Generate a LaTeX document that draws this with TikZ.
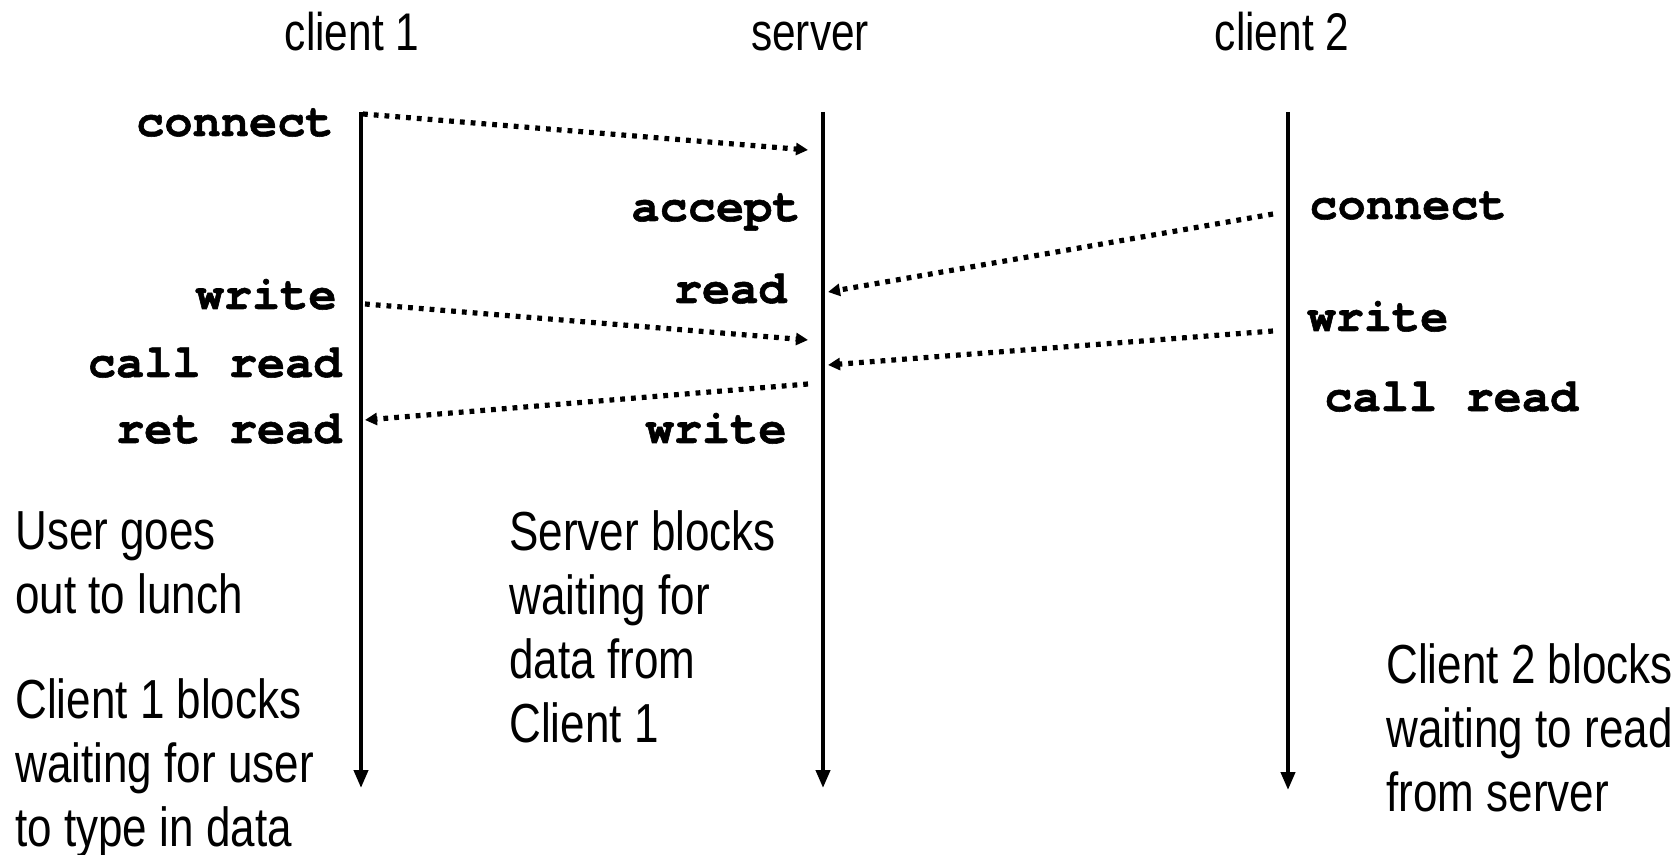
\documentclass[tikz,border=0pt]{standalone}
\usepackage{fontspec}
\setmainfont{Liberation Sans}
\newfontfamily\narrowfont[FakeStretch=0.8]{Liberation Sans}
\setmonofont{texgyrecursor}[Extension=.otf, UprightFont=*-regular, BoldFont=*-bold,
    BoldFeatures={FakeBold=1.2}]
\usetikzlibrary{arrows.meta}

\begin{document}
\begin{tikzpicture}[x=0.5pt, y=-0.5pt,
    lifeline/.style={line width=2pt, -{Triangle[length=9pt, width=7pt]}},
    msg/.style={line width=2.6pt, dash pattern=on 2.4pt off 3pt,
        -{Triangle[length=6pt, width=6pt]}},
    head/.style={font=\narrowfont\fontsize{26.5}{32}\selectfont, inner sep=0, anchor=base},
    call/.style={font=\ttfamily\bfseries\fontsize{23.5}{28}\selectfont, inner sep=0},
    note/.style={font=\narrowfont\fontsize{27.5}{32}\selectfont, inner sep=0,
        align=left, anchor=north west}]

    \useasboundingbox (0, 0) rectangle (1675, 855);

    % Headers
    \node[head] (c1head) at (352, 51) {client 1};
    \node[head] (srvhead) at (810, 51) {server};
    \node[head] (c2head) at (1282, 51) {client 2};

    % Lifelines
    \coordinate (c1top) at (361, 112);
    \coordinate (c1bot) at (361, 788);
    \coordinate (srvtop) at (823, 112);
    \coordinate (srvbot) at (823, 788);
    \coordinate (c2top) at (1288, 112);
    \coordinate (c2bot) at (1288, 790);
    \foreach \x in {c1, srv, c2}
        \draw[lifeline] (\x top) -- (\x bot);

    % Client 1 calls
    \node[call, anchor=base east] (c1connect) at (334, 136) {connect};
    \node[call, anchor=base east] (c1write) at (337, 309) {write};
    \node[call, anchor=base east] (c1callread) at (342, 377) {call read};
    \node[call, anchor=base east] (c1retread) at (342, 443) {ret read};

    % Server calls
    \node[call, anchor=base east] (srvaccept) at (801, 221) {accept};
    \node[call, anchor=base east] (srvread) at (787, 303) {read};
    \node[call, anchor=base east] (srvwrite) at (787, 443) {write};

    % Client 2 calls
    \node[call, anchor=base west] (c2connect) at (1309, 219) {connect};
    \node[call, anchor=base west] (c2write) at (1307, 331) {write};
    \node[call, anchor=base west] (c2callread) at (1324, 411) {call read};

    % Message ends
    \coordinate (m1a) at (363, 114);
    \coordinate (m1b) at (808, 150);
    \coordinate (m2a) at (1273, 214);
    \coordinate (m2b) at (828, 292);
    \coordinate (m3a) at (365, 304);
    \coordinate (m3b) at (808, 340);
    \coordinate (m4a) at (1273, 331);
    \coordinate (m4b) at (828, 365);
    \coordinate (m5a) at (808, 384);
    \coordinate (m5b) at (365, 420);
    \foreach \m in {m1, m2, m3, m4, m5}
        \draw[msg] (\m a) -- (\m b);

    % Notes
    \node[note] (lunch) at (15, 511) {User goes\\out to lunch};
    \node[note] (c1blocks) at (15, 678) {Client 1 blocks\\waiting for user\\to type in data};
    \node[note] (srvblocks) at (509, 510) {Server blocks\\waiting for\\data from\\Client 1};
    \node[note] (c2blocks) at (1386, 643) {Client 2 blocks\\waiting to read\\from server};

\end{tikzpicture}
\end{document}
